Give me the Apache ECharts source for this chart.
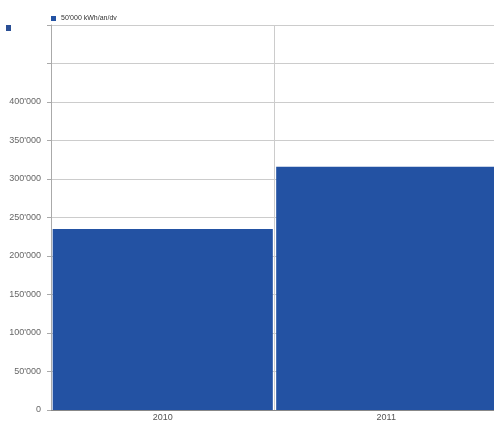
<!DOCTYPE html>
<html><head><meta charset="utf-8">
<script src="https://cdn.jsdelivr.net/npm/echarts@6/dist/echarts.min.js"></script>
<style>html,body{margin:0;padding:0;background:#fff;overflow:hidden;width:494px;height:423px}#c{width:500px;height:423px}</style>
</head><body><div id="c"></div>
<script>
const categories = ['2010', '2011'];
const seriesName = "50'000 kWh/an/dv";
const values = [235000, 316000];
const yMax = 500000;
const yInterval = 50000;

function fmt(v){ return String(v).replace(/\B(?=(\d{3})+(?!\d))/g, "'"); }

const chart = echarts.init(document.getElementById('c'));
chart.setOption({
  animation: false,
  legend: {
    left: 46, top: 10, itemWidth: 5, itemHeight: 5, itemGap: 2,
    textStyle: {fontSize: 7, color: '#333', fontFamily: 'Liberation Sans'},
    icon: 'rect'
  },
  graphic: [{type: 'rect', shape: {x: 6, y: 25, width: 5, height: 6}, style: {fill: '#2a4f95'}}],
  grid: {left: 51, right: 2, top: 25, bottom: 13},
  xAxis: {
    type: 'category', data: categories,
    axisLine: {lineStyle: {color: '#888'}},
    axisTick: {show: false},
    splitLine: {show: true, lineStyle: {color: '#ccc'}},
    axisLabel: {fontSize: 9, color: '#555', margin: 3, fontFamily: 'Liberation Sans'}
  },
  yAxis: {
    type: 'value', min: 0, max: yMax, interval: yInterval,
    axisLine: {show: true, lineStyle: {color: '#aaa'}},
    axisTick: {show: true, length: 4, lineStyle: {color: '#aaa'}},
    splitLine: {lineStyle: {color: '#ccc'}},
    axisLabel: {fontSize: 9, color: '#666', margin: 10, fontFamily: 'Liberation Sans',
      formatter: v => v > 400000 ? '' : fmt(v)}
  },
  series: [{
    name: seriesName, type: 'bar', data: values,
    barCategoryGap: '1.5%',
    itemStyle: {color: '#2352a3'}
  }]
});
</script></body></html>
